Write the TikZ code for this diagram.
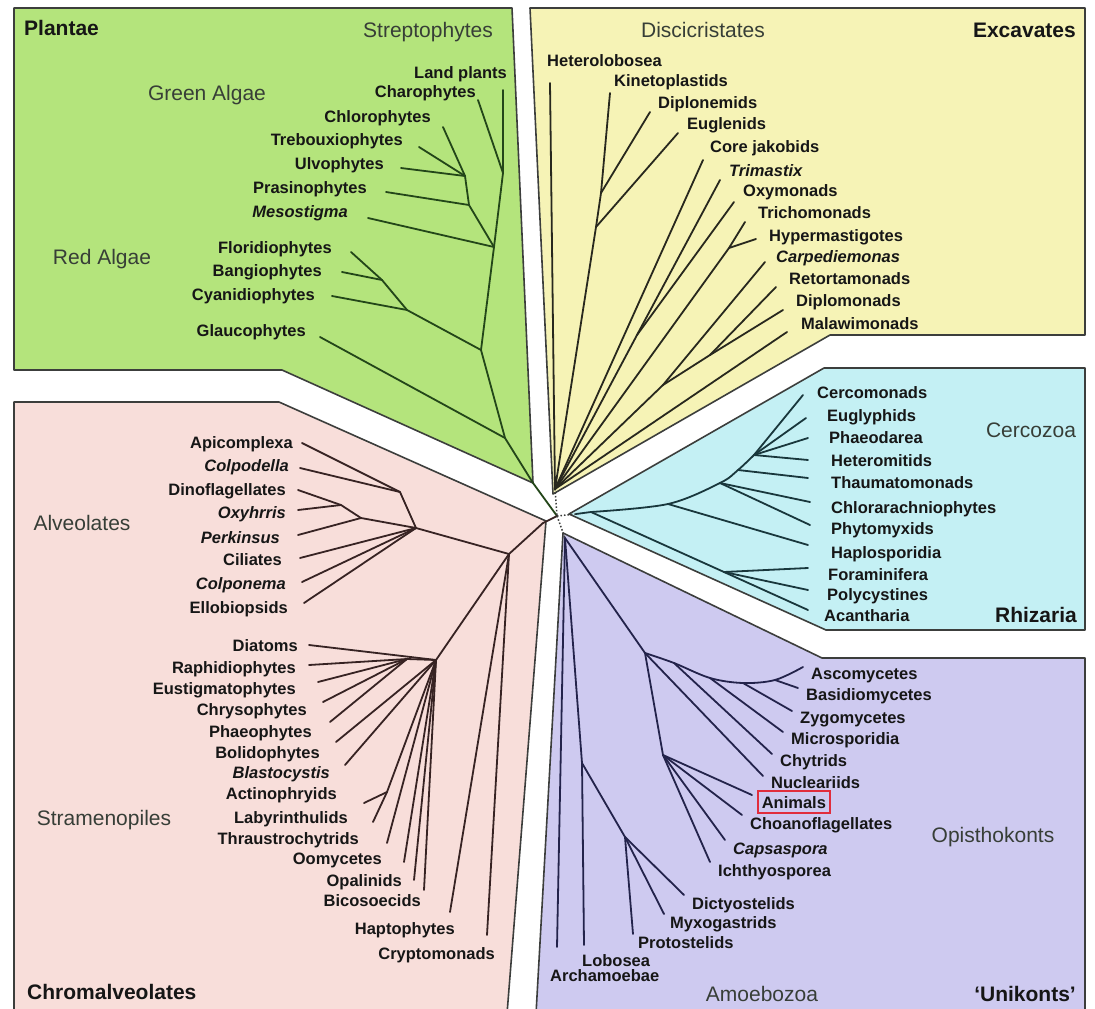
\documentclass[tikz,border=0pt]{standalone}
\usepackage{fontspec}
\setmainfont{Liberation Sans}
\definecolor{gfill}{RGB}{180,228,124}
\definecolor{yfill}{RGB}{246,243,182}
\definecolor{cfill}{RGB}{196,240,244}
\definecolor{pfill}{RGB}{248,222,218}
\definecolor{vfill}{RGB}{206,202,240}
\definecolor{edgec}{RGB}{60,62,60}
\definecolor{gline}{RGB}{35,70,25}
\definecolor{yline}{RGB}{40,40,30}
\definecolor{cline}{RGB}{25,55,60}
\definecolor{pline}{RGB}{55,35,35}
\definecolor{vline}{RGB}{35,35,75}
\definecolor{leafc}{RGB}{22,22,22}
\definecolor{regc}{RGB}{55,62,55}
\definecolor{redbox}{RGB}{225,45,60}
\tikzset{
  tr/.style={line width=1.8pt, line cap=round, line join=round},
  gtr/.style={tr, draw=gline},
  ytr/.style={tr, draw=yline},
  ctr/.style={tr, draw=cline},
  ptr/.style={tr, draw=pline},
  vtr/.style={tr, draw=vline},
  regionbox/.style={draw=edgec, line width=1.6pt, line join=round},
  dotline/.style={line width=1.5pt, draw=edgec, dotted},
  leaf/.style={font=\fontsize{16.5}{18}\selectfont\bfseries, inner sep=0pt, text=leafc},
  leafi/.style={font=\fontsize{16.5}{18}\selectfont\bfseries\itshape, inner sep=0pt, text=leafc},
  lR/.style={leaf, anchor=base east},
  lL/.style={leaf, anchor=base west},
  liR/.style={leafi, anchor=base east},
  liL/.style={leafi, anchor=base west},
  reg/.style={font=\fontsize{21}{24}\selectfont, inner sep=0pt, text=regc, anchor=base},
  regb/.style={font=\fontsize{21}{24}\selectfont\bfseries, inner sep=0pt, text=leafc}
}
\begin{document}
\begin{tikzpicture}[x=1pt,y=-1pt]
\useasboundingbox (0,0) rectangle (1095,1009);
\fill[white] (0,0) rectangle (1095,1009);

% ---------- regions ----------
\path[regionbox, fill=gfill] (14,8) -- (512,8) -- (533,483) -- (282,370) -- (14,370) -- cycle;
\path[regionbox, fill=yfill] (530,8) -- (1085,8) -- (1085,335) -- (830,335) -- (553,494) -- cycle;
\path[regionbox, fill=cfill] (824,368) -- (1085,368) -- (1085,630) -- (826,630) -- (569,514) -- cycle;
\path[regionbox, fill=pfill] (14,402) -- (279,402) -- (546,521) -- (507,1014) -- (14,1014) -- cycle;
\path[regionbox, fill=vfill] (563,533) -- (822,658) -- (1085,658) -- (1085,1014) -- (536,1014) -- cycle;

% ---------- centre ----------
\coordinate (Z) at (557,516);
\coordinate (GR) at (533,483);
\coordinate (XR) at (555,489);
\coordinate (RR0) at (576,514);
\coordinate (PR) at (543,523);
\coordinate (U) at (565,538);
\draw[gtr] (GR) -- (Z);
\draw[ptr] (PR) -- (Z);
\draw[dotline] (XR) -- (Z);
\draw[dotline] (Z) -- (RR0);
\draw[dotline] (Z) -- (U);

% ---------- Plantae ----------
\coordinate (pN7) at (505,438);
\coordinate (pN4) at (481,350);
\coordinate (pN6) at (407,310);
\coordinate (pN5) at (382,280);
\coordinate (pN3) at (494,247);
\coordinate (pN2) at (469,205);
\coordinate (pN1) at (465,176);
\coordinate (pT1) at (503,173);
\coordinate (eLand) at (503,90);
\coordinate (eChar) at (478,100);
\coordinate (eChlo) at (443,127);
\coordinate (eTreb) at (419,147);
\coordinate (eUlvo) at (401,168);
\coordinate (ePras) at (386,192);
\coordinate (eMeso) at (368,218);
\coordinate (eFlor) at (351,252);
\coordinate (eBang) at (342,272);
\coordinate (eCyan) at (332,296);
\coordinate (eGlau) at (320,337);
\draw[gtr] (eLand) -- (pT1) -- (pN3) -- (pN4) -- (pN7) -- (GR);
\draw[gtr] (eChar) -- (pT1);
\draw[gtr] (eChlo) -- (pN1) -- (pN2) -- (pN3);
\draw[gtr] (eTreb) -- (pN1);
\draw[gtr] (eUlvo) -- (pN1);
\draw[gtr] (ePras) -- (pN2);
\draw[gtr] (eMeso) -- (pN3);
\draw[gtr] (eFlor) -- (pN5) -- (pN6) -- (pN4);
\draw[gtr] (eBang) -- (pN5);
\draw[gtr] (eCyan) -- (pN6);
\draw[gtr] (eGlau) -- (pN7);
\node[lR] (tLand) at (507,78) {Land plants};
\node[lR] (tChar) at (476,97) {Charophytes};
\node[lR] (tChlo) at (431,122) {Chlorophytes};
\node[lR] (tTreb) at (403,145) {Trebouxiophytes};
\node[lR] (tUlvo) at (384,169) {Ulvophytes};
\node[lR] (tPras) at (367,193) {Prasinophytes};
\node[liR] (tMeso) at (348,217) {Mesostigma};
\node[lR] (tFlor) at (332,253) {Floridiophytes};
\node[lR] (tBang) at (322,276) {Bangiophytes};
\node[lR] (tCyan) at (315,300) {Cyanidiophytes};
\node[lR] (tGlau) at (306,336) {Glaucophytes};
\node[regb, anchor=base west] (rPlantae) at (24,35) {Plantae};
\node[reg] (rStrep) at (428,37) {Streptophytes};
\node[reg] (rGreen) at (207,100) {Green Algae};
\node[reg] (rRed) at (102,264) {Red Algae};

% ---------- Excavates ----------
\coordinate (xK1) at (601,193);
\coordinate (xK2) at (596,227);
\coordinate (xP) at (637,335);
\coordinate (xQ) at (729,248);
\coordinate (xF2) at (710,355);
\coordinate (xF1) at (663,385);
\coordinate (xHet) at (550,83);
\coordinate (xKin) at (610,93);
\coordinate (xDip) at (650,112);
\coordinate (xEug) at (678,133);
\coordinate (xCj) at (703,160);
\coordinate (xTri) at (720,180);
\coordinate (xOxy) at (734,202);
\coordinate (xTric) at (745,222);
\coordinate (xHyp) at (756,239);
\coordinate (xCarp) at (765,262);
\coordinate (xRet) at (776,287);
\coordinate (xDipl) at (783,310);
\coordinate (xMal) at (787,332);
\draw[ytr] (xHet) -- (XR);
\draw[ytr] (xKin) -- (xK1) -- (xK2) -- (XR);
\draw[ytr] (xDip) -- (xK1);
\draw[ytr] (xEug) -- (xK2);
\draw[ytr] (xCj) -- (XR);
\draw[ytr] (xTri) -- (xP) -- (XR);
\draw[ytr] (xOxy) -- (xP);
\draw[ytr] (xTric) -- (xQ) -- (XR);
\draw[ytr] (xHyp) -- (xQ);
\draw[ytr] (xCarp) -- (xF1) -- (XR);
\draw[ytr] (xRet) -- (xF2) -- (xF1);
\draw[ytr] (xDipl) -- (xF2);
\draw[ytr] (xMal) -- (XR);
\node[lL] (tHet) at (547,66) {Heterolobosea};
\node[lL] (tKin) at (614,86) {Kinetoplastids};
\node[lL] (tDip) at (658,108) {Diplonemids};
\node[lL] (tEug) at (687,129) {Euglenids};
\node[lL] (tCj) at (710,152) {Core jakobids};
\node[liL] (tTri) at (729,176) {Trimastix};
\node[lL] (tOxy) at (743,196) {Oxymonads};
\node[lL] (tTric) at (758,218) {Trichomonads};
\node[lL] (tHyp) at (769,241) {Hypermastigotes};
\node[liL] (tCarp) at (776,262) {Carpediemonas};
\node[lL] (tRet) at (789,284) {Retortamonads};
\node[lL] (tDipl) at (796,306) {Diplomonads};
\node[lL] (tMal) at (801,329) {Malawimonads};
\node[reg] (rDisc) at (703,37) {Discicristates};
\node[regb, anchor=base east] (rExc) at (1076,37) {Excavates};

% ---------- Rhizaria ----------
\coordinate (RR) at (591,512);
\coordinate (rA) at (668,504);
\coordinate (rB) at (720,483);
\coordinate (rCp) at (738,470);
\coordinate (rC) at (754,455);
\coordinate (rD) at (724,572);
\coordinate (cCer) at (803,395);
\coordinate (cEug) at (806,418);
\coordinate (cPha) at (808,438);
\coordinate (cHet) at (808,460);
\coordinate (cTha) at (808,478);
\coordinate (cChl) at (810,502);
\coordinate (cPhy) at (810,525);
\coordinate (cHap) at (808,545);
\coordinate (cFor) at (808,568);
\coordinate (cPol) at (808,590);
\coordinate (cAca) at (808,610);
\draw[ctr] (RR0) -- (RR);
\draw[ctr] plot[smooth, tension=0.55] coordinates {(RR) (rA) (rB) (rCp) (rC)};
\draw[ctr] (cCer) -- (rC);
\draw[ctr] (cEug) -- (rC);
\draw[ctr] (cPha) -- (rC);
\draw[ctr] (cHet) -- (rC);
\draw[ctr] (cTha) -- (rCp);
\draw[ctr] (cChl) -- (rB);
\draw[ctr] (cPhy) -- (rB);
\draw[ctr] (cHap) -- (rA);
\draw[ctr] (RR) -- (rD) -- (cFor);
\draw[ctr] (cPol) -- (rD);
\draw[ctr] (cAca) -- (rD);
\node[lL] (tCer) at (817,398) {Cercomonads};
\node[lL] (tEugl) at (827,421) {Euglyphids};
\node[lL] (tPha) at (829,443) {Phaeodarea};
\node[lL] (tHetm) at (831,466) {Heteromitids};
\node[lL] (tTha) at (831,488) {Thaumatomonads};
\node[lL] (tChl) at (831,513) {Chlorarachniophytes};
\node[lL] (tPhy) at (831,534) {Phytomyxids};
\node[lL] (tHap) at (831,558) {Haplosporidia};
\node[lL] (tFor) at (828,580) {Foraminifera};
\node[lL] (tPol) at (827,600) {Polycystines};
\node[lL] (tAca) at (824,621) {Acantharia};
\node[reg] (rCerc) at (1031,437) {Cercozoa};
\node[regb, anchor=base east] (rRhiz) at (1077,622) {Rhizaria};

% ---------- Chromalveolates ----------
\coordinate (a1) at (400,492);
\coordinate (a2) at (416,528);
\coordinate (d1) at (341,505);
\coordinate (d2) at (361,518);
\coordinate (ch) at (509,554);
\coordinate (S1) at (436,660);
\coordinate (S2) at (407,659);
\coordinate (sL) at (387,792);
\coordinate (kApi) at (302,443);
\coordinate (kCol) at (300,468);
\coordinate (kDin) at (298,490);
\coordinate (kOxy) at (298,510);
\coordinate (kPer) at (298,535);
\coordinate (kCil) at (300,558);
\coordinate (kCop) at (302,582);
\coordinate (kEll) at (304,603);
\coordinate (kDia) at (309,645);
\coordinate (kRap) at (309,665);
\coordinate (kEus) at (318,682);
\coordinate (kChr) at (323,702);
\coordinate (kPha) at (330,722);
\coordinate (kBol) at (336,742);
\coordinate (kBla) at (345,765);
\coordinate (kAct) at (364,803);
\coordinate (kLab) at (373,822);
\coordinate (kThr) at (387,843);
\coordinate (kOom) at (404,862);
\coordinate (kOpa) at (414,880);
\coordinate (kBic) at (424,890);
\coordinate (kHap) at (450,912);
\coordinate (kCry) at (487,935);
\draw[ptr] (kApi) -- (a1) -- (a2) -- (ch) -- (PR);
\draw[ptr] (kCol) -- (a1);
\draw[ptr] (kDin) -- (d1) -- (d2) -- (a2);
\draw[ptr] (kOxy) -- (d1);
\draw[ptr] (kPer) -- (d2);
\draw[ptr] (kCil) -- (a2);
\draw[ptr] (kCop) -- (a2);
\draw[ptr] (kEll) -- (a2);
\draw[ptr] (ch) -- (S1);
\draw[ptr] (kDia) -- (S1);
\draw[ptr] (kRap) -- (S2) -- (S1);
\draw[ptr] (kEus) -- (S2);
\draw[ptr] (kChr) -- (S2);
\draw[ptr] (kPha) -- (S2);
\draw[ptr] (kBol) -- (S1);
\draw[ptr] (kBla) -- (S1);
\draw[ptr] (kAct) -- (sL) -- (S1);
\draw[ptr] (kLab) -- (sL);
\draw[ptr] (kThr) -- (S1);
\draw[ptr] (kOom) -- (S1);
\draw[ptr] (kOpa) -- (S1);
\draw[ptr] (kBic) -- (S1);
\draw[ptr] (kHap) -- (ch);
\draw[ptr] (kCry) -- (ch);
\node[lR] (tApi) at (293,448) {Apicomplexa};
\node[liR] (tCol) at (289,471) {Colpodella};
\node[lR] (tDin) at (286,495) {Dinoflagellates};
\node[liR] (tOxyh) at (286,518) {Oxyhrris};
\node[liR] (tPer) at (280,543) {Perkinsus};
\node[lR] (tCil) at (282,565) {Ciliates};
\node[liR] (tCop) at (286,589) {Colponema};
\node[lR] (tEll) at (288,613) {Ellobiopsids};
\node[lR] (tDia) at (298,651) {Diatoms};
\node[lR] (tRap) at (296,673) {Raphidiophytes};
\node[lR] (tEus) at (296,694) {Eustigmatophytes};
\node[lR] (tChr) at (307,715) {Chrysophytes};
\node[lR] (tPhae) at (312,737) {Phaeophytes};
\node[lR] (tBol) at (320,758) {Bolidophytes};
\node[liR] (tBla) at (330,778) {Blastocystis};
\node[lR] (tAct) at (337,799) {Actinophryids};
\node[lR] (tLab) at (348,823) {Labyrinthulids};
\node[lR] (tThr) at (359,844) {Thraustrochytrids};
\node[lR] (tOom) at (382,864) {Oomycetes};
\node[lR] (tOpa) at (402,886) {Opalinids};
\node[lR] (tBic) at (421,906) {Bicosoecids};
\node[lR] (tHapt) at (455,934) {Haptophytes};
\node[lR] (tCry) at (495,959) {Cryptomonads};
\node[reg] (rAlv) at (82,530) {Alveolates};
\node[reg] (rStram) at (104,825) {Stramenopiles};
\node[regb, anchor=base west] (rChrom) at (27,999) {Chromalveolates};

% ---------- Unikonts ----------
\coordinate (uO) at (645,653);
\coordinate (uf1) at (674,663);
\coordinate (uf2) at (710,678);
\coordinate (uf3) at (743,683);
\coordinate (uFg) at (775,680);
\coordinate (uH) at (663,755);
\coordinate (uM) at (582,763);
\coordinate (uP) at (625,837);
\coordinate (vAsc) at (803,667);
\coordinate (vBas) at (798,688);
\coordinate (vZyg) at (792,711);
\coordinate (vMic) at (783,732);
\coordinate (vChy) at (772,754);
\coordinate (vNuc) at (763,776);
\coordinate (vAni) at (752,795);
\coordinate (vCho) at (742,815);
\coordinate (vCap) at (725,840);
\coordinate (vIch) at (710,862);
\coordinate (vDic) at (684,895);
\coordinate (vMyx) at (664,914);
\coordinate (vPro) at (633,934);
\coordinate (vLob) at (584,945);
\coordinate (vArc) at (557,947);
\draw[vtr] (U) -- (uO);
\draw[vtr] plot[smooth, tension=0.55] coordinates {(uO) (uf1) (uf2) (uf3) (uFg) (vAsc)};
\draw[vtr] (vBas) -- (uFg);
\draw[vtr] (vZyg) -- (uf3);
\draw[vtr] (vMic) -- (uf2);
\draw[vtr] (vChy) -- (uf1);
\draw[vtr] (vNuc) -- (uO);
\draw[vtr] (uO) -- (uH);
\draw[vtr] (uH) -- (vAni);
\draw[vtr] (uH) -- (vCho);
\draw[vtr] (uH) -- (vCap);
\draw[vtr] (uH) -- (vIch);
\draw[vtr] (U) -- (uM) -- (vLob);
\draw[vtr] (uM) -- (uP);
\draw[vtr] (uP) -- (vDic);
\draw[vtr] (uP) -- (vMyx);
\draw[vtr] (uP) -- (vPro);
\draw[vtr] (U) -- (vArc);
\node[lL] (tAsc) at (811,679) {Ascomycetes};
\node[lL] (tBas) at (806,700) {Basidiomycetes};
\node[lL] (tZyg) at (800,723) {Zygomycetes};
\node[lL] (tMic) at (791,744) {Microsporidia};
\node[lL] (tChy) at (780,766) {Chytrids};
\node[lL] (tNuc) at (771,788) {Nucleariids};
\node[leaf, anchor=base west, draw=redbox, line width=1.5pt, inner xsep=4pt, inner ysep=5pt] (tAni) at (757,808) {Animals};
\node[lL] (tCho) at (750,829) {Choanoflagellates};
\node[liL] (tCap) at (733,854) {Capsaspora};
\node[lL] (tIch) at (718,876) {Ichthyosporea};
\node[lL] (tDic) at (692,909) {Dictyostelids};
\node[lL] (tMyx) at (670,928) {Myxogastrids};
\node[lL] (tPro) at (638,948) {Protostelids};
\node[lL] (tLob) at (582,966) {Lobosea};
\node[lL] (tArc) at (550,981) {Archamoebae};
\node[reg] (rOpis) at (993,842) {Opisthokonts};
\node[reg] (rAmoe) at (762,1001) {Amoebozoa};
\node[regb, anchor=base east] (rUni) at (1076,1001) {‘Unikonts’};
\end{tikzpicture}
\end{document}
